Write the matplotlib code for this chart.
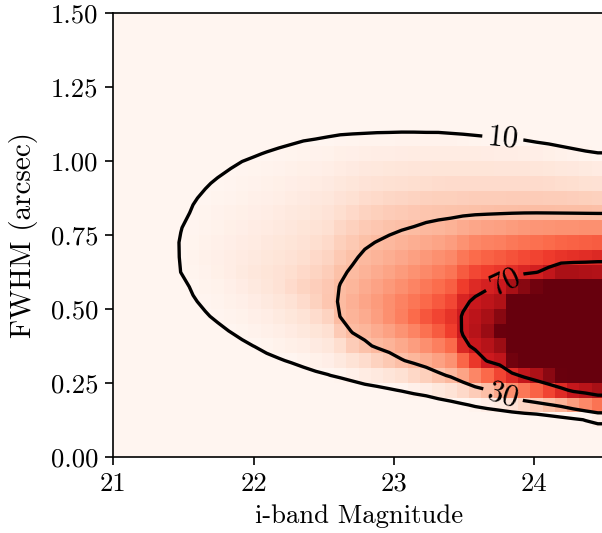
import numpy as np
import matplotlib
matplotlib.use("Agg")
import matplotlib.pyplot as plt
from matplotlib.colors import Normalize

# ---------------- data ----------------
# magnitude bins (40) and FWHM bins (30)
mag_edges = np.linspace(21.0, 24.5, 41)
fwhm_edges = np.linspace(0.0, 1.5, 31)
contour_levels = [10, 30, 70]
x_ticks = [21, 22, 23, 24]
y_ticks = [0.00, 0.25, 0.50, 0.75, 1.00, 1.25, 1.50]

# values per magnitude bin (one list per column), FWHM rows 0.025 ... 1.225
# (rows above 1.25 arcsec are zero)
columns = [
    [0,0,0,0,0.1,0.7,1.3,1.9,2.5,3.1,3.7,4.3,4.9,5.5,6.1,6.4,6.0,5.6,5.2,4.8,4.4,4.0,3.6,3.2,2.8],
    [0,0,0,0.2,0.8,1.4,2.0,2.6,3.2,3.8,4.4,5.0,5.6,6.2,6.8,6.9,6.5,6.1,5.7,5.3,4.9,4.5,4.1,3.7,3.3],
    [0,0,0.5,1.1,1.7,2.3,2.9,3.5,4.1,4.7,5.3,5.9,6.5,7.1,7.7,7.5,7.1,6.7,6.3,5.9,5.5,5.1,4.7,4.3,3.9],
    [0.3,0.9,1.5,2.1,2.7,3.3,3.9,4.5,5.1,5.7,6.3,6.9,7.5,8.1,8.6,8.2,7.8,7.4,7.0,6.6,6.2,5.8,5.4,5.0,4.6],
    [1.2,1.8,2.4,3.0,3.6,4.2,4.8,5.4,6.0,6.6,7.2,7.8,8.4,9.0,9.3,8.9,8.5,8.1,7.7,7.3,6.9,6.5,6.1,5.7,5.3],
    [2.8,3.4,4.0,4.6,5.2,5.8,6.4,7.0,7.6,8.2,8.8,9.4,10.02,10.14,10.12,9.94,9.5,9.1,8.7,8.3,7.9,7.5,7.1,6.7,6.3],
    [3.8,4.4,5.0,5.6,6.2,6.8,7.4,8.0,8.6,9.2,9.8,10.27,10.65,11.03,10.84,10.51,10.19,9.84,9.44,9.04,8.64,8.24,7.84,7.44,7.04],
    [4.4,5.0,5.6,6.2,6.8,7.4,8.0,8.6,9.2,9.8,10.39,10.97,11.56,12.06,11.62,11.17,10.72,10.28,9.83,9.38,8.94,8.49,8.04,7.6,7.15],
    [3.22,4.01,4.8,5.59,6.38,7.17,7.96,8.75,9.54,10.33,11.12,11.91,12.7,13.0,12.44,11.88,11.33,10.77,10.21,9.65,9.1,8.54,7.98,7.42,6.87],
    [2.24,3.21,4.19,5.16,6.14,7.11,8.09,9.06,10.04,11.01,11.98,12.96,13.93,13.9,13.24,12.59,11.93,11.28,10.63,9.97,9.32,8.66,8.01,7.36,6.7],
    [1.17,2.36,3.55,4.74,5.93,7.12,8.31,9.5,10.69,11.88,13.07,14.27,15.46,14.93,14.17,13.41,12.65,11.89,11.12,10.36,9.6,8.84,8.08,7.32,6.56],
    [0.05,1.48,2.91,4.34,5.77,7.2,8.63,10.06,11.49,12.92,14.35,15.78,16.88,16.0,15.12,14.24,13.36,12.48,11.6,10.72,9.82,8.94,8.06,7.18,6.3],
    [0,0.84,2.5,4.17,5.84,7.5,9.17,10.83,12.5,14.16,15.83,17.5,18.1,17.1,16.11,15.11,14.11,13.11,12.11,11.12,10.12,9.12,8.12,7.12,6.12],
    [0,0,1.89,3.84,5.79,7.74,9.69,11.64,13.59,15.54,17.49,19.44,19.36,18.25,17.13,16.02,14.9,13.79,12.67,11.56,10.44,9.31,8.2,7.08,5.97],
    [0,0,1.2,3.48,5.76,8.04,10.32,12.6,14.88,17.16,19.44,21.72,20.75,19.51,18.26,17.02,15.77,14.53,13.28,12.03,10.79,9.53,8.28,7.04,5.79],
    [0,0,0.57,3.22,5.87,8.52,11.17,13.82,16.47,19.12,21.77,23.62,22.24,20.86,19.48,18.1,16.72,15.34,13.96,12.58,11.2,9.81,8.43,7.05,5.67],
    [0,0,0.03,3.07,6.11,9.15,12.19,15.23,18.28,21.32,24.36,25.3,23.77,22.24,20.71,19.18,17.65,16.12,14.59,13.06,11.53,9.99,8.47,6.94,5.41],
    [0,0,0,2.78,6.28,9.79,13.29,16.8,20.3,23.81,27.32,27.09,25.4,23.72,22.03,20.35,18.66,16.98,15.29,13.61,11.92,10.24,8.55,6.87,5.18],
    [0,0,0,0.47,5.65,10.83,16.01,21.19,26.37,30.18,30.78,30.27,28.98,26.93,24.89,22.84,20.8,18.75,16.71,14.66,12.62,10.57,8.53,6.48,4.44],
    [0,0,0,0,5.89,12.52,19.14,25.76,30.56,32.13,33.35,32.07,30.8,29.13,26.83,24.54,22.24,19.95,17.65,15.36,13.06,10.77,8.49,6.2,3.9],
    [0,0,0,0,6.96,14.49,21.45,28.7,32.1,34.66,36.04,34.38,32.72,31.06,29.07,26.49,23.9,21.32,18.73,16.15,13.57,10.98,8.4,5.8,3.2],
    [0,0,0,0,7.89,16.02,24.15,30.96,34.37,37.79,38.76,36.62,34.48,32.35,30.21,27.54,24.81,22.08,19.35,16.62,13.89,11.16,8.42,5.69,2.96],
    [0,0,0,0.35,9.12,17.89,26.67,32.73,37.13,41.53,41.61,39.04,36.47,33.9,31.34,28.61,25.72,22.83,19.94,17.05,14.16,11.27,8.38,5.49,2.6],
    [0,0,0,1.13,10.57,20.0,29.43,35.06,40.44,45.82,44.63,41.6,38.56,35.52,32.49,29.46,26.45,23.44,20.43,17.42,14.41,11.4,8.37,5.36,2.35],
    [0,0,0,2.32,12.42,22.52,31.66,38.05,44.43,50.82,47.88,44.34,40.81,37.27,33.75,30.21,27.06,23.94,20.81,17.69,14.56,11.44,8.31,5.19,2.06],
    [0,0,0,3.26,14.13,25.0,34.06,41.57,49.09,55.22,51.21,47.21,43.2,39.2,35.19,31.2,27.72,24.47,21.21,17.96,14.7,11.45,8.18,4.93,1.67],
    [0,0,0,5.17,16.67,28.16,37.22,45.81,54.41,59.32,54.77,50.21,45.66,41.1,36.55,32.0,28.13,24.8,21.47,18.13,14.8,11.47,8.13,4.8,1.47],
    [0,0,0,6.79,19.14,31.18,41.02,50.85,60.69,63.63,58.49,53.34,48.2,43.05,37.91,32.78,28.42,25.0,21.58,18.15,14.73,11.3,7.88,4.45,1.03],
    [0,0,0,8.93,22.27,36.41,51.68,66.95,71.2,70.94,67.73,61.07,54.4,47.73,41.07,34.4,28.8,25.26,21.73,18.19,14.66,11.13,7.6,4.06,0.53],
    [0,0,0,11.18,25.88,43.72,62.76,72.62,76.85,75.64,71.88,66.2,58.59,50.99,43.38,35.78,29.12,25.47,21.82,18.18,14.53,10.88,7.23,3.58,0],
    [0,0,0,13.25,29.51,51.2,70.88,77.18,83.49,80.63,74.88,68.79,60.74,52.69,44.64,36.6,29.33,25.58,21.83,18.09,14.34,10.6,6.85,3.1,0],
    [0,0,0,15.56,35.24,59.05,74.6,83.12,91.64,86.52,78.8,71.08,62.74,54.3,45.86,37.43,29.54,25.69,21.84,18.0,14.15,10.31,6.46,2.6,0],
    [0,0,0,18.94,41.71,66.1,90.2,95.4,100.6,96.98,92.62,80.48,65.02,56.13,47.24,38.36,29.76,25.81,21.85,17.9,13.95,9.95,6.04,2.09,0],
    [0,0,0,22.68,47.72,73.0,92.76,101.4,110.0,102.96,95.92,86.45,67.55,58.11,48.68,39.25,29.92,25.87,21.82,17.78,13.73,9.68,5.63,1.58,0],
    [0,0,0.5,25.5,52.78,79.5,96.73,108.3,118.26,108.96,99.67,90.37,69.41,59.56,49.7,39.85,29.97,25.82,21.63,17.45,13.26,9.08,4.89,0.7,0],
    [0,0,2.63,28.95,59.09,86.0,102.63,117.67,127.92,116.36,104.8,93.24,74.02,61.37,50.84,40.32,29.91,25.64,21.37,17.1,12.82,8.55,4.28,0,0],
    [0,0,5.14,32.67,66.0,91.45,109.53,127.62,137.47,123.9,110.35,96.78,80.0,63.26,52.02,40.79,29.82,25.42,21.01,16.61,12.2,7.8,3.39,0,0],
    [0,0,7.71,38.0,73.0,96.87,118.35,139.82,148.5,132.35,116.18,100.02,80.0,64.39,52.69,40.99,29.73,25.18,20.63,16.09,11.55,7.0,2.45,0,0],
    [0,0,10.61,43.09,76.5,101.65,126.98,152.3,159.19,140.59,121.99,103.39,79.0,65.39,53.27,41.15,29.62,24.93,20.24,15.54,10.85,6.15,1.46,0,0],
    [0,0,13.75,48.46,81.0,108.75,138.05,167.35,171.35,150.05,128.76,107.46,78.0,66.48,53.9,41.32,29.52,24.71,19.9,15.09,10.28,5.47,0.66,0,0],
]

# ---------------- figure ----------------
plt.rcParams['font.family'] = 'serif'
plt.rcParams['font.serif'] = ['cmr10']
plt.rcParams['mathtext.fontset'] = 'cm'
plt.rcParams['axes.formatter.use_mathtext'] = True
plt.rcParams['font.size'] = 12.5

Z = np.zeros((len(fwhm_edges) - 1, len(mag_edges) - 1))
colarr = np.array(columns, dtype=float).T
Z[:colarr.shape[0], :] = colarr

mag_c = 0.5 * (mag_edges[:-1] + mag_edges[1:])
fwhm_c = 0.5 * (fwhm_edges[:-1] + fwhm_edges[1:])
# extend contour grid to the right axis edge (repeat last bin)
mag_cc = np.append(mag_c, mag_edges[-1])
Zc = np.hstack([Z, Z[:, -1:]])

fig = plt.figure(figsize=(603 / 150, 533 / 150), dpi=150)
ax = fig.add_axes([113.3 / 603, (533 - 456.7) / 533, 490.7 / 603, 443.4 / 533])

ax.pcolormesh(mag_edges, fwhm_edges, Z, cmap='Reds',
              norm=Normalize(vmin=10, vmax=92), shading='flat',
              edgecolors='none', linewidth=0, antialiased=False)

cs = ax.contour(mag_cc, fwhm_c, Zc, levels=contour_levels, colors='black',
                linewidths=1.6)
ax.clabel(cs, fmt='%d', fontsize=15, inline=True,
          manual=[(23.78, 1.085), (23.78, 0.60), (23.78, 0.21)])

ax.set_xlim(21.0, 24.5)
ax.set_ylim(0.0, 1.5)
ax.set_xticks(x_ticks)
ax.set_yticks(y_ticks)
ax.set_yticklabels(['%.2f' % v for v in y_ticks])
ax.set_xticklabels(['%d' % v for v in x_ticks])
ax.tick_params(labelsize=12.8, length=3.8)
ax.set_xlabel('i-band Magnitude', fontsize=12.8, labelpad=4)
ax.set_ylabel('FWHM (arcsec)', fontsize=14, labelpad=6)

fig.savefig('out.png', dpi=150)
